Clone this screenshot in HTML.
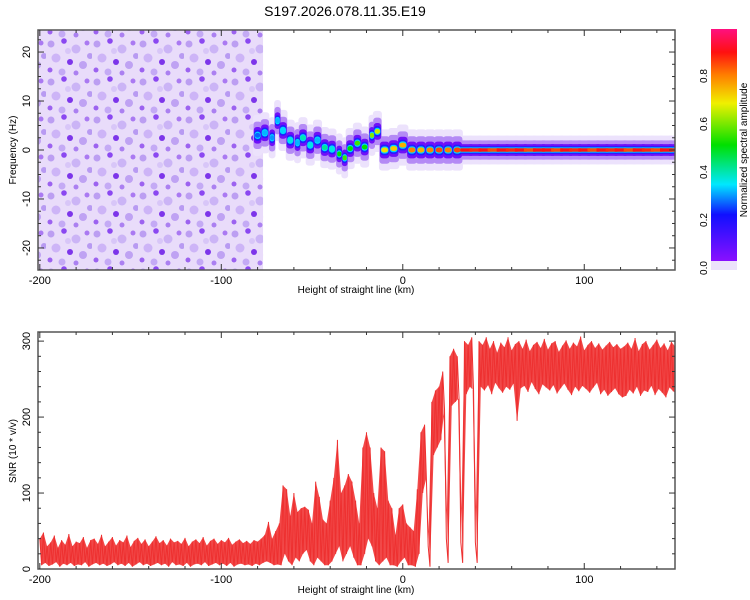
<!DOCTYPE html>
<html><head><meta charset="utf-8"><style>
body{margin:0;background:#fff;font-family:"Liberation Sans",sans-serif}
svg{display:block}
text{font-family:"Liberation Sans",sans-serif;fill:#000}
</style></head><body>
<svg id="c" width="750" height="600" viewBox="0 0 750 600">
<defs>
<pattern id="noise" width="46" height="38" patternUnits="userSpaceOnUse">
<circle cx="5" cy="6" r="3.5" fill="#b08ef0" opacity="0.8"/>
<circle cx="18" cy="3" r="2.8" fill="#7a2ef0" opacity="0.85"/>
<circle cx="30" cy="11" r="4.5" fill="#c8b0f6" opacity="0.9"/>
<circle cx="41" cy="5" r="2.5" fill="#9a60f0" opacity="0.8"/>
<circle cx="10" cy="20" r="4.5" fill="#cdb4f7"/>
<circle cx="24" cy="24" r="3" fill="#6a18e8" opacity="0.85"/>
<circle cx="37" cy="27" r="4" fill="#b898f2" opacity="0.85"/>
<circle cx="4" cy="32" r="2.5" fill="#8844ee" opacity="0.8"/>
<circle cx="16" cy="34" r="3.5" fill="#c4aaf5"/>
<circle cx="44" cy="18" r="3" fill="#b89af2"/>
<circle cx="30" cy="35" r="2.5" fill="#a070f0" opacity="0.85"/>
<circle cx="22" cy="13" r="3" fill="#d8c6f8"/>
</pattern>
<linearGradient id="cmap" x1="0" y1="1" x2="0" y2="0">
<stop offset="0" stop-color="#8a10ff"/><stop offset="0.2" stop-color="#1010ff"/>
<stop offset="0.33" stop-color="#00e8ff"/><stop offset="0.5" stop-color="#00e000"/>
<stop offset="0.68" stop-color="#f0f000"/><stop offset="0.8" stop-color="#ff8000"/>
<stop offset="0.9" stop-color="#ff1010"/><stop offset="1" stop-color="#ff1080"/>
</linearGradient>
<clipPath id="clipTop"><rect x="38" y="30" width="637" height="240"/></clipPath>
<clipPath id="clipBot"><rect x="38" y="332" width="637" height="237"/></clipPath>
</defs>
<text x="345" y="16" font-size="14" text-anchor="middle">S197.2026.078.11.35.E19</text>
<g id="top"></g>
<g id="bot"></g>
<g id="cbar"></g>
</svg>
<script>
// ---- data ----
const trackKm   = [-80,-76,-72,-69,-66,-62,-58,-55,-51,-47,-43,-39,-35,-32,-29,-25,-21,-17,-14,-10,-5,0,5,10,15,20,25,30,35,40,45,50,55,60,65,70,75,80,85,90,95,100,105,110,115,120,125,130,135,140,145,150];
const trackFreq = [3,3.5,2.5,6,4,2,1.5,2.5,1,2,0.5,0.2,-0.8,-1.6,0.3,1.4,0.6,3,3.8,0,0.3,1,0,0,0,0,0,0,0,0,0,0,0,0,0,0,0,0,0,0,0,0,0,0,0,0,0,0,0,0,0,0];
const trackAmp  = [0.25,0.3,0.28,0.3,0.32,0.35,0.3,0.38,0.35,0.3,0.4,0.35,0.5,0.55,0.5,0.55,0.5,0.6,0.65,0.7,0.72,0.75,0.8,0.75,0.8,0.85,0.8,0.85,0.9,0.88,0.9,0.85,0.9,0.88,0.9,0.85,0.9,0.9,0.85,0.9,0.88,0.9,0.85,0.9,0.88,0.9,0.85,0.9,0.88,0.85,0.9,0.88];
const snrStart = -200, snrStep = 2;
const snrHi = [40,48,30,35,44,28,38,32,46,30,36,34,42,28,38,40,33,45,30,36,42,31,38,35,44,29,37,41,33,39,30,36,43,34,38,31,40,35,37,33,41,30,36,39,34,42,31,37,40,33,38,35,41,32,36,39,34,37,33,38,36,40,
 45,62,40,50,60,110,105,70,100,75,80,82,78,60,115,95,65,60,90,120,170,100,110,125,115,90,60,160,180,160,100,80,160,155,90,80,45,80,85,60,55,50,105,180,190,30,220,235,240,260,40,280,290,280,35,300,295,305,35,
 300,295,305,290,300,285,298,292,305,288,296,300,290,302,287,295,299,291,303,289,297,300,286,294,301,290,298,293,306,288,295,300,291,297,289,294,299,292,296,290,293,
 298,290,304,287,296,300,289,295,302,291,297,288,299,293,286,300,292,295,289,297,291,294,288,296];
const snrLo = [5,8,4,6,9,3,7,5,8,4,6,5,9,3,6,8,5,7,4,6,9,5,7,4,8,3,6,9,5,7,4,6,8,5,7,3,9,5,6,4,8,3,6,7,5,9,4,6,8,5,7,4,8,3,6,7,5,6,4,7,5,8,
 10,8,5,6,5,20,10,5,15,10,20,25,10,5,15,10,5,5,10,20,30,10,20,30,15,5,5,20,40,30,10,5,10,15,5,5,3,10,15,5,5,3,20,100,120,3,150,160,170,210,8,215,220,225,8,230,240,235,8,
 240,235,242,230,245,238,232,240,236,244,195,238,241,233,246,237,230,243,239,235,242,231,238,244,236,229,240,234,241,237,232,239,245,230,236,228,233,238,230,226,228,
 236,231,240,228,235,233,241,229,237,232,226,239,234,230,236,228,233,238,225,231,235,229,236,232];
const xTicks = [-200,-100,0,100];
const fTicks = [-20,-10,0,10,20];
const sTicks = [0,100,200,300];
const cTicks = ["0.0","0.2","0.4","0.6","0.8"];
// ---- axes ----
const NS="http://www.w3.org/2000/svg";
const X0=38,X1=675, KM0=-201, KM1=150;
const xs=k=>X0+(k-KM0)/(KM1-KM0)*(X1-X0);
const T0=30,T1=270, yf=f=>T1-(f+24.5)/49*(T1-T0);
const B0=332,B1=569, ys=v=>B1-v/312*(B1-B0);
function el(tag,attrs,parent){const e=document.createElementNS(NS,tag);for(const k in attrs)e.setAttribute(k,attrs[k]);parent.appendChild(e);return e;}
function cmap(a){const st=[[0,[138,16,255]],[0.2,[16,16,255]],[0.33,[0,232,255]],[0.5,[0,224,0]],[0.68,[240,240,0]],[0.8,[255,128,0]],[0.9,[255,16,16]],[1,[255,16,128]]];
 for(let i=1;i<st.length;i++){if(a<=st[i][0]){const t=(a-st[i-1][0])/(st[i][0]-st[i-1][0]);const c=st[i-1][1].map((v,j)=>Math.round(v+(st[i][1][j]-v)*t));return `rgb(${c})`;}}return "rgb(255,16,128)";}
const topG=document.getElementById('top'), botG=document.getElementById('bot'), cbG=document.getElementById('cbar');
// spectrogram
const tg=el('g',{'clip-path':'url(#clipTop)'},topG);
const nz=el('rect',{x:X0,y:T0,width:xs(-77)-X0,height:T1-T0,fill:'#e9dcfa'},tg);


const nz2=el('rect',{x:X0,y:T0,width:xs(-77)-X0,height:T1-T0,fill:'url(#noise)'},tg);


const layers=[[1.25,4.2,'#ece2fc'],[1.15,2.8,'#b48af5'],[1.05,1.7,'#7010f8'],[0.95,1.1,'#2020ff'],[0.85,0.75,'#00d8ff'],[0.75,0.5,null]];
layers.forEach(([wf,hh,col])=>{
 for(let i=0;i<trackKm.length;i++){
  const a=trackAmp[i];
  const c=col||cmap(a);
  const cont=trackKm[i]>=35;
  const h=cont?hh*0.7:hh;
  const w=(i<trackKm.length-1?(trackKm[i+1]-trackKm[i]):5)*1.815*(cont?1.3:wf);
  const cell=el('rect',{x:xs(trackKm[i])-w/2,y:yf(trackFreq[i]+h),width:w,height:(yf(0)-yf(h))*2,rx:cont?0:Math.min(w/2,3),fill:c},tg);
  
  
 }
});
el('rect',{x:X0,y:T0,width:X1-X0,height:T1-T0,fill:'none',stroke:'#555','stroke-width':1.5},topG);
for(let k=-200;k<=150;k+=20){const x=xs(k);const L=k%100===0?6:3;el('line',{x1:x,x2:x,y1:T1,y2:T1-L,stroke:'#333'},topG);el('line',{x1:x,x2:x,y1:T0,y2:T0+L,stroke:'#333'},topG);}
for(let f=-22.5;f<=22.5;f+=2.5){const y=yf(f);const L=f%10===0?6:3;el('line',{x1:X0,x2:X0+L,y1:y,y2:y,stroke:'#333'},topG);el('line',{x1:X1,x2:X1-L,y1:y,y2:y,stroke:'#333'},topG);}
xTicks.forEach(k=>{const t=el('text',{x:xs(k),y:284,'font-size':11,'text-anchor':'middle'},topG);t.textContent=k;});
fTicks.forEach(f=>{const t=el('text',{x:0,y:0,'font-size':11,'text-anchor':'middle',transform:`translate(30,${yf(f)}) rotate(-90)`},topG);t.textContent=f;});
let tt=el('text',{x:356,y:293,'font-size':10,'text-anchor':'middle'},topG);tt.textContent='Height of straight line (km)';
tt=el('text',{x:0,y:0,'font-size':10,'text-anchor':'middle',transform:'translate(16,150) rotate(-90)'},topG);tt.textContent='Frequency (Hz)';
// SNR
const bg=el('g',{'clip-path':'url(#clipBot)'},botG);
let fwd=[],back=[],zig=[];
for(let i=0;i<snrHi.length;i++){const k=snrStart+i*snrStep;fwd.push(`${xs(k)},${ys(snrHi[i])}`);back.unshift(`${xs(k+1)},${ys(snrLo[i])}`);zig.push(`${xs(k)},${ys(snrHi[i])}`);zig.push(`${xs(k+1)},${ys(snrLo[i])}`);}
const band=el('polygon',{points:fwd.concat(back).join(' '),fill:'#f03434',opacity:0.9},bg);


const ln=el('polyline',{points:zig.join(' '),fill:'none',stroke:'#ee3030','stroke-width':1},bg);


el('rect',{x:X0,y:B0,width:X1-X0,height:B1-B0,fill:'none',stroke:'#555','stroke-width':1.5},botG);
for(let k=-200;k<=150;k+=20){const x=xs(k);const L=k%100===0?6:3;el('line',{x1:x,x2:x,y1:B1,y2:B1-L,stroke:'#333'},botG);el('line',{x1:x,x2:x,y1:B0,y2:B0+L,stroke:'#333'},botG);}
for(let v=20;v<=300;v+=20){const y=ys(v);const L=v%100===0?6:3;el('line',{x1:X0,x2:X0+L,y1:y,y2:y,stroke:'#333'},botG);el('line',{x1:X1,x2:X1-L,y1:y,y2:y,stroke:'#333'},botG);}
xTicks.forEach(k=>{const t=el('text',{x:xs(k),y:583,'font-size':11,'text-anchor':'middle'},botG);t.textContent=k;});
sTicks.forEach(v=>{const t=el('text',{x:0,y:0,'font-size':11,'text-anchor':'middle',transform:`translate(30,${ys(v)}) rotate(-90)`},botG);t.textContent=v;});
tt=el('text',{x:356,y:593,'font-size':10,'text-anchor':'middle'},botG);tt.textContent='Height of straight line (km)';
tt=el('text',{x:0,y:0,'font-size':10,'text-anchor':'middle',transform:'translate(16,451) rotate(-90)'},botG);tt.textContent='SNR (10 * v/v)';
// colorbar
el('rect',{x:711,y:260,width:26,height:10,fill:'#ece2fb'},cbG);
el('rect',{x:711,y:29,width:26,height:232,fill:'url(#cmap)'},cbG);
const cy=v=>268-v*240;
cTicks.forEach(s=>{const t=el('text',{x:0,y:0,'font-size':10,'text-anchor':'middle',transform:`translate(707,${cy(parseFloat(s))}) rotate(-90)`},cbG);t.textContent=s;});
tt=el('text',{x:0,y:0,'font-size':10,'text-anchor':'middle',transform:'translate(747,150) rotate(-90)'},cbG);tt.textContent='Normalized spectral amplitude';
</script>
</body></html>
